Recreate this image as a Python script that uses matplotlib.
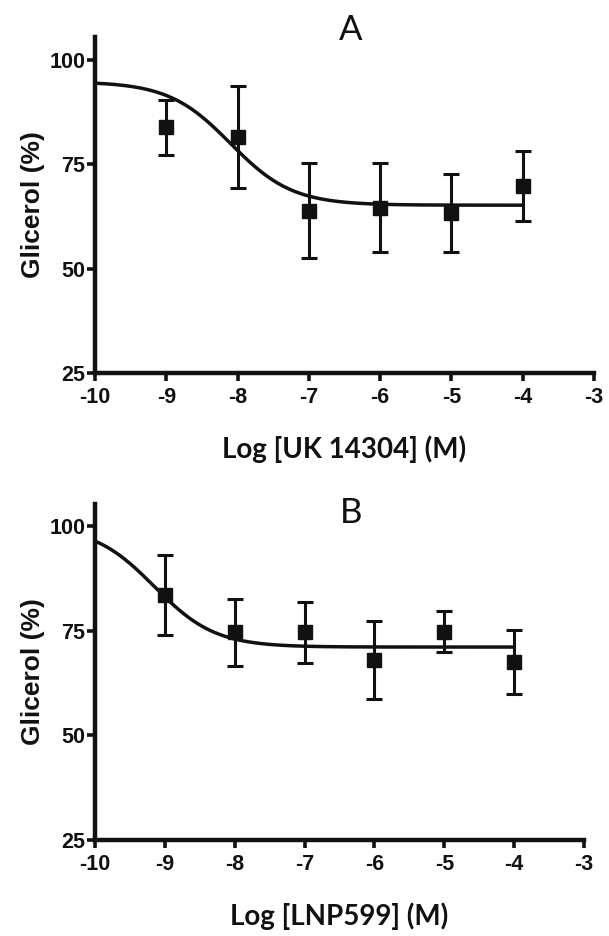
import matplotlib
matplotlib.use("Agg")
from matplotlib import pyplot as plt
import numpy as np

plt.rcParams["axes.unicode_minus"] = False

# log concentration (M)
log_conc = [-9, -8, -7, -6, -5, -4]

# panel A: UK 14304
glic_a = [83.9, 81.5, 63.9, 64.6, 63.3, 69.8]
err_a = [6.6, 12.3, 11.4, 10.7, 9.4, 8.4]
# fitted sigmoid (top, bottom, logEC50, hill)
fit_a = [94.8, 65.2, -8.1, 1.0]

# panel B: LNP599
glic_b = [83.6, 74.6, 74.6, 68.0, 74.7, 67.6]
err_b = [9.5, 8.0, 7.2, 9.4, 4.9, 7.6]
fit_b = [100.0, 71.1, -9.15, 1.0]

x_ticks = [-10, -9, -8, -7, -6, -5, -4, -3]
y_ticks = [25, 50, 75, 100]

ink = "#111111"


def sigmoid(x, top, bottom, logec50, hill):
    return bottom + (top - bottom) / (1 + 10 ** ((x - logec50) * hill))


def draw_panel(ax, means, errs, fit, ytop, xlabel):
    xs = np.linspace(-10, -4, 300)
    ax.plot(xs, sigmoid(xs, *fit), color=ink, lw=2.5, zorder=2)
    ax.errorbar(log_conc, means, yerr=errs, fmt="s", color=ink, ms=10,
                elinewidth=2.2, capsize=6, capthick=2.2, zorder=3)
    ax.set_xlim(-10, -3)
    ax.set_ylim(25, ytop)
    ax.set_xticks(x_ticks)
    ax.set_yticks(y_ticks)
    for s in ["top", "right"]:
        ax.spines[s].set_visible(False)
    for s in ["left", "bottom"]:
        ax.spines[s].set_linewidth(3.2)
        ax.spines[s].set_color(ink)
    ax.tick_params(direction="out", length=6, width=2.6, color=ink,
                   labelcolor=ink, labelsize=15.5)
    ax.tick_params(axis="x", pad=4)
    ax.tick_params(axis="y", pad=1)
    for lab in ax.get_xticklabels() + ax.get_yticklabels():
        lab.set_family("Liberation Sans")
        lab.set_fontweight("bold")
    ax.set_ylabel("Glicerol (%)", fontsize=19, fontweight="bold",
                  family="Liberation Sans", color=ink, labelpad=3)
    ax.set_xlabel(xlabel, fontsize=20, fontweight="bold", family="Lato",
                  color=ink, labelpad=20)


fig = plt.figure(figsize=(6.09, 9.36), dpi=100)
ax_a = fig.add_axes([0.156, 0.6015, 0.8194, 0.359])
ax_b = fig.add_axes([0.156, 0.1026, 0.803, 0.359])

draw_panel(ax_a, glic_a, err_a, fit_a, 105.5, "Log [UK 14304] (M)")
draw_panel(ax_b, glic_b, err_b, fit_b, 105.3, "Log [LNP599] (M)")

fig.text(0.576, 0.957, "A", fontsize=25, family="Lato", color=ink,
         ha="center", va="baseline")
fig.text(0.576, 0.441, "B", fontsize=25, family="Lato", color=ink,
         ha="center", va="baseline")

fig.savefig("out.png", dpi=100)
